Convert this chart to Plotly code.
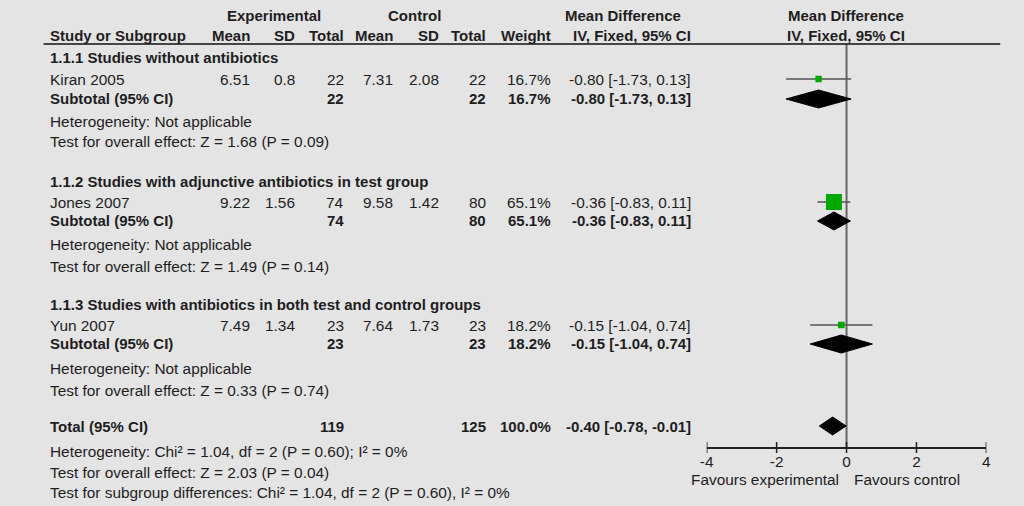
import plotly.graph_objects as go

# ---------------- data ----------------
groups = ["1.1.1 Studies without antibiotics",
          "1.1.2 Studies with adjunctive antibiotics in test group",
          "1.1.3 Studies with antibiotics in both test and control groups"]
studies = ["Kiran 2005", "Jones 2007", "Yun 2007"]
exp_mean = ["6.51", "9.22", "7.49"]
exp_sd = ["0.8", "1.56", "1.34"]
exp_n = [22, 74, 23]
ctl_mean = ["7.31", "9.58", "7.64"]
ctl_sd = ["2.08", "1.42", "1.73"]
ctl_n = [22, 80, 23]
weights = [16.7, 65.1, 18.2]
md = [-0.80, -0.36, -0.15]
ci_lo = [-1.73, -0.83, -1.04]
ci_hi = [0.13, 0.11, 0.74]
sub_z = [1.68, 1.49, 0.33]
sub_p = [0.09, 0.14, 0.74]
total_md = [-0.40]
total_lo = [-0.78]
total_hi = [-0.01]
total_exp_n = 119
total_ctl_n = 125
het_text = "Heterogeneity: Chi² = 1.04, df = 2 (P = 0.60); I² = 0%"
total_test_text = "Test for overall effect: Z = 2.03 (P = 0.04)"
subgroup_text = "Test for subgroup differences: Chi² = 1.04, df = 2 (P = 0.60), I² = 0%"
axis_ticks = [-4, -2, 0, 2, 4]

# ---------------- layout constants (pixels) ----------------
W, H = 1024, 506
BG = "#e4e4e4"
TXT = "#1e1e1e"
FONT = "Liberation Sans, Arial, sans-serif"
FS = 15
FS_REG = 15.4
title_y = [57, 181, 304]
study_y = [79, 202, 325]
sub_y = [99, 221, 344]
het_y = [121, 244, 368]
test_y = [141, 266, 390]
total_y = 426
tot_het_y, tot_test_y, subgrp_y = 451, 472, 492
axis_y = 448
header_line_y = 44
plot_x0, plot_x1 = 708, 991

col_left = 43
col_exp_mean, col_exp_sd, col_exp_n = 247, 292, 342
col_ctl_mean, col_ctl_sd, col_ctl_n = 392, 438, 486
col_w, col_ci = 551, 693
plot_center = 848.5

fig = go.Figure()
annotations = []


def txt(x, y, s, anchor="left", bold=False):
    annotations.append(dict(
        x=x / W, xref="paper", y=y, yref="y", text=("<b>%s</b>" % s) if bold else s,
        showarrow=False, xanchor=anchor, yanchor="middle", borderpad=0,
        font=dict(family=FONT, size=FS if bold else FS_REG, color=TXT)))


# headers
txt(270, 15, "Experimental", "center", True)
txt(412, 15, "Control", "center", True)
txt(623, 15, "Mean Difference", "center", True)
txt(plot_center, 15, "Mean Difference", "center", True)
txt(col_left, 35, "Study or Subgroup", "left", True)
txt(col_exp_mean, 35, "Mean", "right", True)
txt(col_exp_sd, 35, "SD", "right", True)
txt(col_exp_n, 35, "Total", "right", True)
txt(col_ctl_mean, 35, "Mean", "right", True)
txt(col_ctl_sd, 35, "SD", "right", True)
txt(col_ctl_n, 35, "Total", "right", True)
txt(col_w, 35, "Weight", "right", True)
txt(col_ci, 35, "IV, Fixed, 95% CI", "right", True)
txt(plot_center, 35, "IV, Fixed, 95% CI", "center", True)

for i in range(3):
    txt(col_left, title_y[i], groups[i], "left", True)
    y = study_y[i]
    txt(col_left, y, studies[i])
    txt(col_exp_mean, y, exp_mean[i], "right")
    txt(col_exp_sd, y, exp_sd[i], "right")
    txt(col_exp_n, y, str(exp_n[i]), "right")
    txt(col_ctl_mean, y, ctl_mean[i], "right")
    txt(col_ctl_sd, y, ctl_sd[i], "right")
    txt(col_ctl_n, y, str(ctl_n[i]), "right")
    txt(col_w, y, "%.1f%%" % weights[i], "right")
    ci_s = "%.2f [%.2f, %.2f]" % (md[i], ci_lo[i], ci_hi[i])
    txt(col_ci, y, ci_s, "right")
    y = sub_y[i] - 1
    txt(col_left, y, "Subtotal (95% CI)", "left", True)
    txt(col_exp_n, y, str(exp_n[i]), "right", True)
    txt(col_ctl_n, y, str(ctl_n[i]), "right", True)
    txt(col_w, y, "%.1f%%" % weights[i], "right", True)
    txt(col_ci, y, ci_s, "right", True)
    txt(col_left, het_y[i], "Heterogeneity: Not applicable")
    txt(col_left, test_y[i], "Test for overall effect: Z = %.2f (P = %.2f)" % (sub_z[i], sub_p[i]))

txt(col_left, total_y, "Total (95% CI)", "left", True)
txt(col_exp_n, total_y, str(total_exp_n), "right", True)
txt(col_ctl_n, total_y, str(total_ctl_n), "right", True)
txt(col_w, total_y, "%.1f%%" % sum(weights), "right", True)
txt(col_ci, total_y, "%.2f [%.2f, %.2f]" % (total_md[0], total_lo[0], total_hi[0]), "right", True)
txt(col_left, tot_het_y, het_text)
txt(col_left, tot_test_y, total_test_text)
txt(col_left, subgrp_y, subgroup_text)
txt(843, 479, "Favours experimental", "right")
txt(856, 479, "Favours control", "left")

# CI lines
cx, cy = [], []
for i in range(3):
    cx += [ci_lo[i], ci_hi[i], None]
    cy += [study_y[i], study_y[i], None]
fig.add_trace(go.Scatter(x=cx, y=cy, mode="lines", line=dict(color="#555555", width=1.5),
                         hoverinfo="skip", showlegend=False))
# squares
fig.add_trace(go.Scatter(x=md, y=study_y, mode="markers",
                         marker=dict(symbol="square", color="#00a800",
                                     size=[3 + 0.2 * w for w in weights],
                                     line=dict(width=0), opacity=1),
                         showlegend=False))

# diamonds
def diamond(m, lo, hi, y, hh=9):
    fig.add_trace(go.Scatter(x=[lo, m, hi, m, lo], y=[y, y - hh, y, y + hh, y],
                             mode="lines", fill="toself", fillcolor="#000000",
                             line=dict(color="#000000", width=1), showlegend=False))


for i in range(3):
    diamond(md[i], ci_lo[i], ci_hi[i], sub_y[i])
diamond(total_md[0], total_lo[0], total_hi[0], total_y)

shapes = []
# header line
shapes.append(dict(type="line", xref="paper", yref="y", x0=37 / W, x1=1005 / W,
                   y0=header_line_y, y1=header_line_y, line=dict(color="#111111", width=1.5)))
# zero line
shapes.append(dict(type="line", xref="x", yref="y", x0=0, x1=0, y0=header_line_y, y1=axis_y,
                   line=dict(color="#666666", width=2), layer="below"))
# tick marks crossing the axis line
for t in axis_ticks:
    shapes.append(dict(type="line", xref="x", yref="y", x0=t, x1=t, y0=axis_y - 6, y1=axis_y + 5,
                       line=dict(color="#222222", width=1.5)))

fig.update_layout(
    width=W, height=H, margin=dict(l=0, r=0, t=0, b=0),
    paper_bgcolor=BG, plot_bgcolor=BG,
    xaxis=dict(domain=[plot_x0 / W, plot_x1 / W], range=[-4, 4], showgrid=False, zeroline=False,
               showline=True, linecolor="#222222", linewidth=1.5, ticks="", ticklen=0,
               tickvals=axis_ticks, ticktext=[str(t) for t in axis_ticks],
               tickfont=dict(family=FONT, size=FS_REG, color=TXT),
               anchor="free", position=1 - axis_y / H, fixedrange=True),
    yaxis=dict(domain=[0, 1], range=[H, 0], visible=False, fixedrange=True),
    annotations=annotations, shapes=shapes, showlegend=False,
)

fig.write_html("out.html", config={"displayModeBar": False},
               post_script="document.body.style.margin='0';document.body.style.overflow='hidden';")
